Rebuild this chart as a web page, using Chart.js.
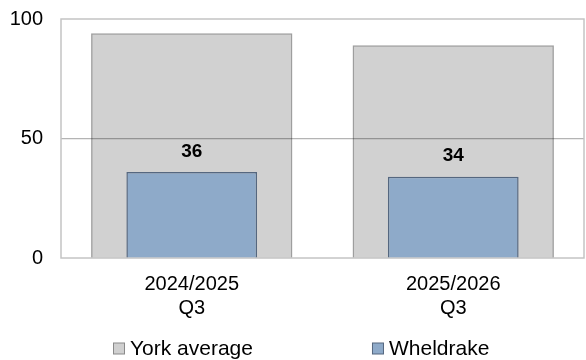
<!DOCTYPE html>
<html>
<head>
<meta charset="utf-8">
<script src="https://cdn.jsdelivr.net/npm/chart.js@4"></script>
<style>
  html, body { margin: 0; padding: 0; background: #fff; }
  #wrap { width: 586px; height: 360px; }
</style>
</head>
<body>
<div id="wrap"><canvas id="chart" width="586" height="360"></canvas></div>
<script>
// data
const categories = [['2024/2025', 'Q3'], ['2025/2026', 'Q3']];
const yorkAverage = [94, 89];
const wheldrake = [36, 34];
const yTicks = [0, 50, 100];
const seriesNames = ['York average', 'Wheldrake'];

const FONT = '"Liberation Sans", Arial, sans-serif';

// light frame round the plot area
const framePlugin = {
  id: 'frame',
  beforeDatasetsDraw(chart) {
    const a = chart.chartArea;
    const ctx = chart.ctx;
    ctx.save();
    ctx.strokeStyle = '#c4c4c4';
    ctx.lineWidth = 1.5;
    ctx.strokeRect(a.left, a.top, a.right - a.left, a.bottom - a.top);
    ctx.restore();
  }
};

// bold value labels above the Wheldrake bars
const valueLabels = {
  id: 'valueLabels',
  afterDatasetsDraw(chart) {
    const ctx = chart.ctx;
    const meta = chart.getDatasetMeta(1);
    ctx.save();
    ctx.font = 'bold 19px ' + FONT;
    ctx.fillStyle = '#000';
    ctx.textAlign = 'center';
    ctx.textBaseline = 'bottom';
    meta.data.forEach((bar, i) => {
      ctx.fillText(String(chart.data.datasets[1].data[i]), bar.x, bar.y - 11);
    });
    ctx.restore();
  }
};

// legend drawn along the bottom, spaced like the original
const bottomLegend = {
  id: 'bottomLegend',
  afterDraw(chart) {
    const ctx = chart.ctx;
    const box = 11, gapText = 6, gapItem = 119;
    ctx.save();
    ctx.font = '21px ' + FONT;
    ctx.textBaseline = 'middle';
    const items = chart.data.datasets.map(ds => ({
      label: ds.label,
      fill: ds.legendFill,
      stroke: ds.legendStroke,
      w: box + gapText + ctx.measureText(ds.label).width
    }));
    let x = 113;
    const y = 348;
    items.forEach(it => {
      ctx.fillStyle = it.fill;
      ctx.fillRect(x + 0.5, y - box / 2 + 0.5, box, box);
      ctx.strokeStyle = it.stroke;
      ctx.lineWidth = 1;
      ctx.strokeRect(x + 0.5, y - box / 2 + 0.5, box, box);
      ctx.fillStyle = '#000';
      ctx.textAlign = 'left';
      ctx.fillText(it.label, x + box + gapText, y + 1);
      x += it.w + gapItem;
    });
    ctx.restore();
  }
};

new Chart(document.getElementById('chart'), {
  type: 'bar',
  data: {
    labels: categories,
    datasets: [
      {
        label: seriesNames[0],
        data: yorkAverage,
        backgroundColor: 'rgba(0,0,0,0.18)',
        borderColor: 'rgba(0,0,0,0.38)',
        borderWidth: 1.5,
        legendFill: '#d0d0d0',
        legendStroke: '#8a8a8a',
        barPercentage: 0.77,
        categoryPercentage: 1,
        grouped: false,
        order: 1
      },
      {
        label: seriesNames[1],
        data: wheldrake,
        backgroundColor: '#8eaac9',
        borderColor: '#55677f',
        borderWidth: 1.5,
        legendFill: '#8eaac9',
        legendStroke: '#55677f',
        barPercentage: 0.5,
        categoryPercentage: 1,
        grouped: false,
        order: 0
      }
    ]
  },
  options: {
    responsive: false,
    animation: false,
    events: [],
    layout: { padding: { left: 0, right: 2, top: 0, bottom: 0 } },
    plugins: {
      legend: { display: false },
      tooltip: { enabled: false }
    },
    scales: {
      x: {
        grid: { display: false },
        border: { display: false },
        ticks: {
          color: '#000',
          font: { family: FONT, size: 20 },
          padding: 6,
          maxRotation: 0
        },
        afterFit(scale) { scale.height = 102; }
      },
      y: {
        min: 0,
        max: 100,
        afterBuildTicks(scale) { scale.ticks = yTicks.map(v => ({ value: v })); },
        grid: {
          color: ctx => ctx.tick && ctx.tick.value === 50 ? '#b4b4b4' : 'rgba(0,0,0,0)',
          lineWidth: 1.2,
          drawTicks: false
        },
        border: { display: false },
        ticks: {
          color: '#000',
          font: { family: FONT, size: 20 },
          padding: 18
        },
        afterFit(scale) {
          scale.width = 61;
          scale.paddingTop = 19;
          scale.paddingBottom = 0;
        }
      }
    }
  },
  plugins: [framePlugin, valueLabels, bottomLegend]
});
</script>
</body>
</html>
